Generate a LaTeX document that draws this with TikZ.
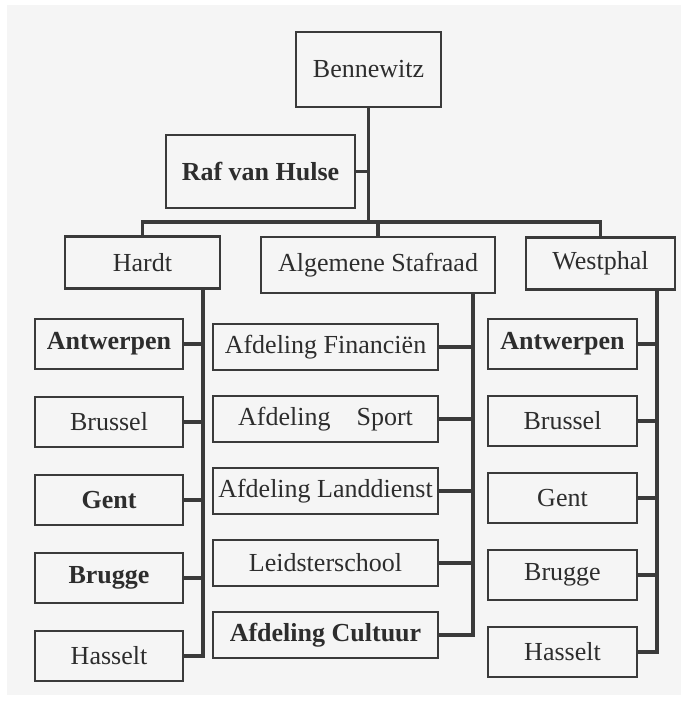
\documentclass[tikz,border=0pt]{standalone}
\usepackage{fontspec}
\setmainfont{Liberation Serif}
\usepackage{xcolor}
\definecolor{bggray}{RGB}{245, 245, 245}
\definecolor{linegray}{RGB}{58, 58, 58}
\definecolor{inkgray}{RGB}{45, 45, 45}
\usepackage{tikz}
\usetikzlibrary{positioning}

\begin{document}
\begin{tikzpicture}[
    x=1pt, y=-1pt,
    box/.style={draw=linegray, line width=2.8pt, rectangle, inner sep=1pt, outer sep=0pt, align=center, text=inkgray, font=\fontsize{26}{30}\selectfont},
    boldbox/.style={box, font=\fontsize{26}{30}\selectfont\bfseries},
    head/.style={minimum width=150pt, minimum height=52pt},
    city/.style={minimum width=148pt, minimum height=50pt},
    dept/.style={minimum width=225pt, minimum height=46pt},
    wire/.style={draw=linegray, line width=3.2pt}
]

\useasboundingbox (0,0) rectangle (684,701);
\fill[bggray] (7,5) rectangle (681,695);

% Top
\node[box, minimum width=145pt, minimum height=75pt] (benn) at (368.5,69.5) {Bennewitz};
\node[boldbox, minimum width=189pt, minimum height=73pt] (raf) at (260.5,171.5) {Raf van Hulse};
\coordinate (junction) at (368.5,222);

% Second row
\node[box, head, minimum width=155pt] (hardt) at (142.5,262.5) {Hardt};
\node[box, head, minimum width=234pt, minimum height=56pt] (staf) at (378,265) {Algemene Stafraad};
\node[box, head, minimum width=149pt] (west) at (600.5,263.5) {Westphal};

% Left column
\node[boldbox, city] (ant1) at (109,344) {Antwerpen};
\node[box, city, below=28pt of ant1] (bru1) {Brussel};
\node[boldbox, city, below=28pt of bru1] (gen1) {Gent};
\node[boldbox, city, below=28pt of gen1] (brg1) {Brugge};
\node[box, city, below=28pt of brg1] (has1) {Hasselt};

% Middle column
\node[box, dept] (fin) at (325.5,347) {Afdeling Financiën};
\node[box, dept, below=26pt of fin] (sport) {Afdeling\quad Sport};
\node[box, dept, below=26pt of sport] (land) {Afdeling Landdienst};
\node[box, dept, below=26pt of land] (leid) {Leidsterschool};
\node[boldbox, dept, below=26pt of leid] (cult) {Afdeling Cultuur};

% Right column
\node[boldbox, city, minimum width=149pt] (ant2) at (562.5,344) {Antwerpen};
\node[box, city, minimum width=149pt, below=27pt of ant2] (bru2) {Brussel};
\node[box, city, minimum width=149pt, below=27pt of bru2] (gen2) {Gent};
\node[box, city, minimum width=149pt, below=27pt of gen2] (brg2) {Brugge};
\node[box, city, minimum width=149pt, below=27pt of brg2] (has2) {Hasselt};

% Buses
\coordinate[left=17pt of hardt.south east] (hbus);
\coordinate[left=22pt of staf.south east] (sbus);
\coordinate[left=18pt of west.south east] (wbus);

% Lines
\draw[wire] (benn.south) -- (junction);
\draw[wire] (raf.east) -- (raf.east -| junction);
\draw[wire] (hardt.north) |- (junction) -| (west.north);
\draw[wire] (staf.north) -- (staf.north |- junction);

\draw[wire] (hbus) |- (has1.east);
\draw[wire] (ant1.east) -- (ant1.east -| hbus);
\draw[wire] (bru1.east) -- (bru1.east -| hbus);
\draw[wire] (gen1.east) -- (gen1.east -| hbus);
\draw[wire] (brg1.east) -- (brg1.east -| hbus);

\draw[wire] (sbus) |- (cult.east);
\draw[wire] (fin.east) -- (fin.east -| sbus);
\draw[wire] (sport.east) -- (sport.east -| sbus);
\draw[wire] (land.east) -- (land.east -| sbus);
\draw[wire] (leid.east) -- (leid.east -| sbus);

\draw[wire] (wbus) |- (has2.east);
\draw[wire] (ant2.east) -- (ant2.east -| wbus);
\draw[wire] (bru2.east) -- (bru2.east -| wbus);
\draw[wire] (gen2.east) -- (gen2.east -| wbus);
\draw[wire] (brg2.east) -- (brg2.east -| wbus);

\end{tikzpicture}
\end{document}
